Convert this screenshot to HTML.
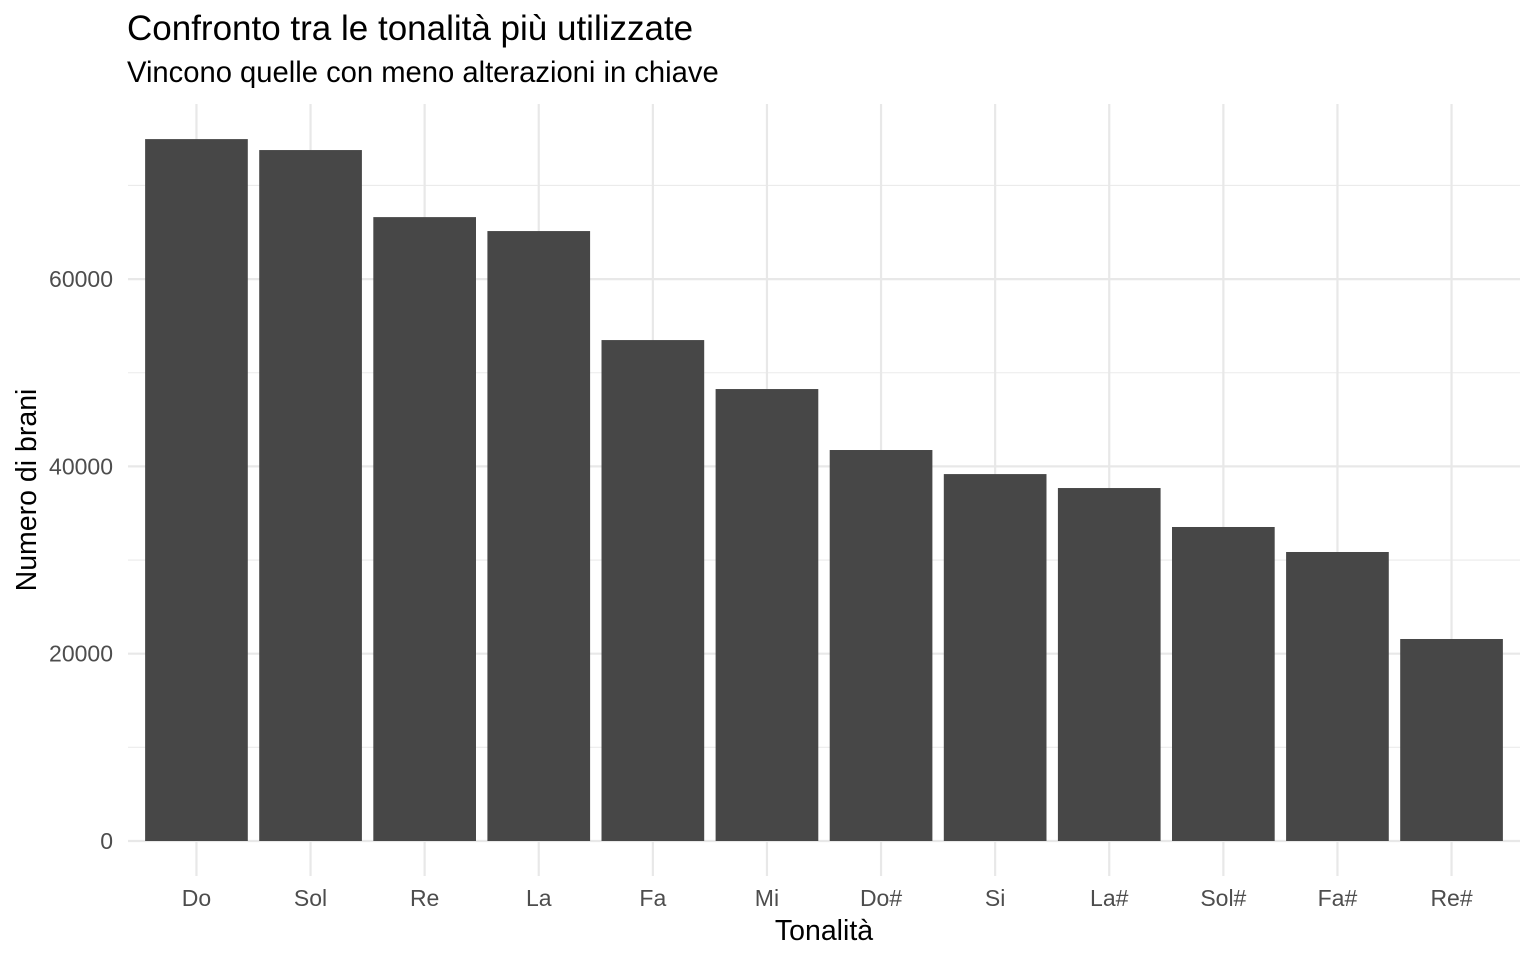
<!DOCTYPE html>
<html><head><meta charset="utf-8"><style>
html,body{margin:0;padding:0;background:#fff;}
svg{display:block;font-family:"Liberation Sans",Arial,sans-serif;}
</style></head><body>
<svg id="chart" width="1536" height="960" viewBox="0 0 1536 960">
<text x="127" y="40" font-size="35" fill="#000">Confronto tra le tonalità più utilizzate</text>
<text x="127" y="82" font-size="29.2" fill="#000">Vincono quelle con meno alterazioni in chiave</text>
<g id="grid"></g>
<g id="bars"></g>
<g id="labels"></g>
<text x="824" y="940" font-size="28.5" text-anchor="middle" fill="#000">Tonalità</text>
<text transform="translate(36,490) rotate(-90)" font-size="28.5" text-anchor="middle" fill="#000">Numero di brani</text>
</svg>
<script>
const categories = ["Do","Sol","Re","La","Fa","Mi","Do#","Si","La#","Sol#","Fa#","Re#"];
const values = [74950,73780,66620,65130,53490,48260,41750,39180,37690,33530,30860,21570];
const yTicks = [0,20000,40000,60000];
const yMinor = [10000,30000,50000,70000];

const NS="http://www.w3.org/2000/svg";
const pLeft=128, pRight=1520, pTop=104, pBottom=876;
const y0=841, pxPerUnit=187.3/20000;
const step=(pRight-pLeft)/(categories.length+0.2);
function xScale(i){return pLeft+step*(0.6+i);}
function yScale(v){return y0-v*pxPerUnit;}
function mk(tag,attrs,parent){const e=document.createElementNS(NS,tag);for(const k in attrs)e.setAttribute(k,attrs[k]);parent.appendChild(e);return e;}
const gGrid=document.getElementById('grid'),gBars=document.getElementById('bars'),gLabels=document.getElementById('labels');
yMinor.forEach(v=>{
  const l=mk('line',{x1:pLeft,x2:pRight,y1:yScale(v),y2:yScale(v),stroke:'#ebebeb','stroke-width':1.1},gGrid);
  
  
});
yTicks.forEach(v=>{
  const l=mk('line',{x1:pLeft,x2:pRight,y1:yScale(v),y2:yScale(v),stroke:'#e8e8e8','stroke-width':2.2},gGrid);
  
  
  const t=mk('text',{x:113,y:yScale(v)+8,'font-size':'23','text-anchor':'end',fill:'#4d4d4d'},gLabels);
  t.textContent=String(v);
  
  
});
const bw=step*0.9;
categories.forEach((c,i)=>{
  const x=xScale(i);
  const l=mk('line',{x1:x,x2:x,y1:pTop,y2:pBottom,stroke:'#e8e8e8','stroke-width':2.2},gGrid);
  
  
  const r=mk('rect',{x:x-bw/2,y:yScale(values[i]),width:bw,height:y0-yScale(values[i]),fill:'#474747'},gBars);
  
  
  const t=mk('text',{x:x,y:906,'font-size':'23','text-anchor':'middle',fill:'#4d4d4d'},gLabels);
  t.textContent=c;
  
  
});
</script>
</body></html>
